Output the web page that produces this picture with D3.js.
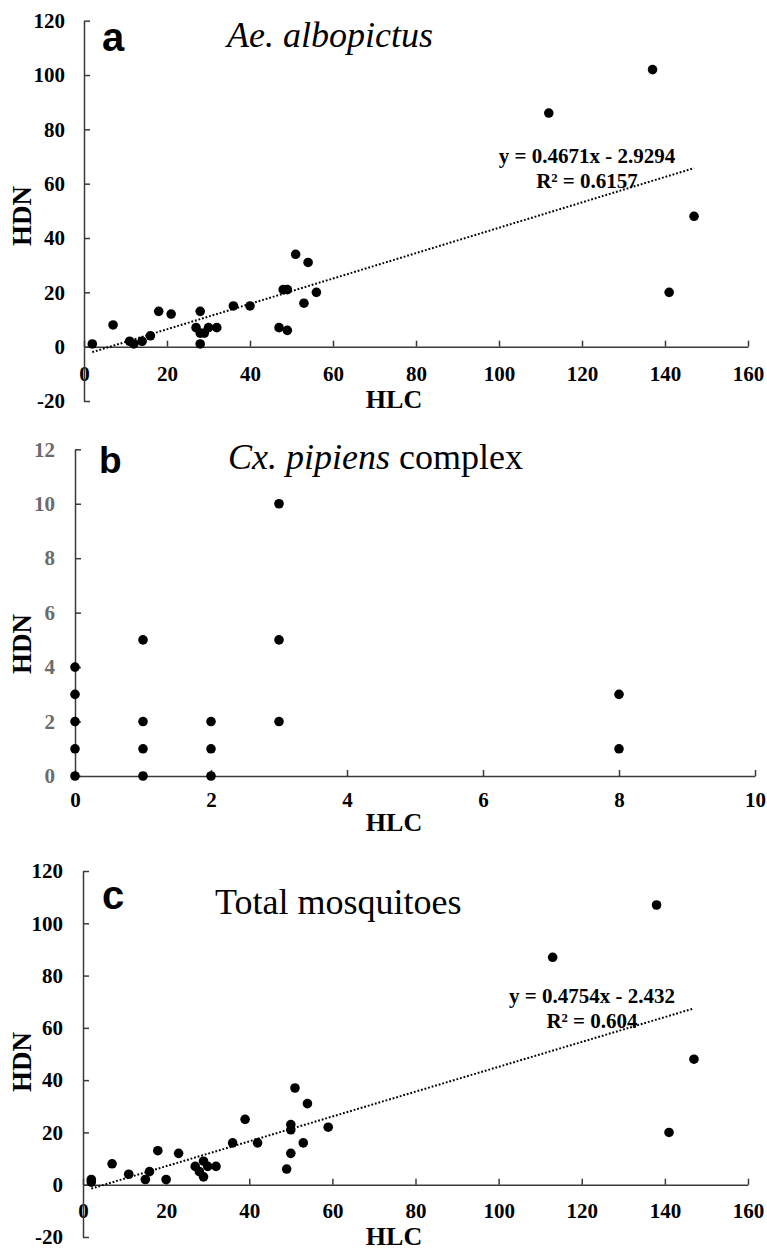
<!DOCTYPE html>
<html>
<head>
<meta charset="utf-8">
<script src="https://cdn.jsdelivr.net/npm/d3@7"></script>
<style>
  body { margin: 0; background: #fff; }
  .axis path, .axis line { stroke: #3a3a3a; stroke-width: 1.5; }
  .axis text { font-family: "Liberation Serif", "Times New Roman", serif; font-weight: bold; font-size: 21px; fill: #000; }
  .axis.grey text { fill: #6b6b6b; }
</style>
</head>
<body>
<script>
// panel a - Ae. albopictus
var hlcA = [2, 7, 11, 12, 14, 16, 18, 21, 27, 28, 28, 28, 29, 30, 32, 36, 40, 47, 48, 49, 49, 51, 54, 53, 56, 112, 137, 147, 141];
var hdnA = [1, 8, 2, 1, 2, 4, 13, 12, 7, 13, 1, 5, 5, 7, 7, 15, 15, 7, 21, 21, 6, 34, 31, 16, 20, 86, 102, 48, 20];
var fitA = [0.4671, -2.9294];
var eqA = ["y = 0.4671x - 2.9294", "R² = 0.6157"];

// panel b - Cx. pipiens complex
var hlcB = [0, 0, 0, 0, 0, 1, 1, 1, 1, 2, 2, 2, 3, 3, 3, 8, 8];
var hdnB = [4, 3, 2, 1, 0, 5, 2, 1, 0, 2, 1, 0, 10, 5, 2, 3, 1];

// panel c - Total mosquitoes
var hlcC = [2, 2, 7, 11, 15, 16, 18, 20, 23, 27, 28, 29, 29, 30, 32, 36, 39, 42, 49, 50, 50, 50, 51, 53, 54, 59, 113, 138, 147, 141];
var hdnC = [2, 1, 8, 4, 2, 5, 13, 2, 12, 7, 5, 3, 9, 7, 7, 16, 25, 16, 6, 23, 21, 12, 37, 16, 31, 22, 87, 107, 48, 20];
var fitC = [0.4754, -2.432];
var eqC = ["y = 0.4754x - 2.432", "R² = 0.604"];

// tick values
var ticksX160 = [0, 20, 40, 60, 80, 100, 120, 140, 160];
var ticksY120 = [-20, 0, 20, 40, 60, 80, 100, 120];
var ticksX10 = [0, 2, 4, 6, 8, 10];
var ticksY12 = [0, 2, 4, 6, 8, 10, 12];

var svg = d3.select("body").append("svg")
  .attr("width", 767)
  .attr("height", 1251);

// plain hyphen for negatives, like the original
var fmt = function(d) { return String(d); };

function panel(p) {
  var x = d3.scaleLinear().domain(p.xDom).range(p.xRange);
  var y = d3.scaleLinear().domain(p.yDom).range(p.yRange);
  var g = svg.append("g");

  g.append("g").attr("class", "axis")
    .attr("transform", "translate(0," + y(0) + ")")
    .call(d3.axisBottom(x).tickValues(p.xTicks).tickFormat(fmt).tickSize(-6).tickSizeOuter(0).tickPadding(p.xPad));

  g.append("g").attr("class", "axis" + (p.greyY ? " grey" : ""))
    .attr("transform", "translate(" + x(0) + ",0)")
    .call(d3.axisLeft(y).tickValues(p.yTicks).tickFormat(fmt).tickSize(-6).tickSizeOuter(0).tickPadding(p.yPad));

  // trend line over the data extent
  if (p.fit) {
    var ext = d3.extent(p.xs);
    g.append("line")
      .attr("x1", x(ext[0])).attr("y1", y(p.fit[0] * ext[0] + p.fit[1]))
      .attr("x2", x(ext[1])).attr("y2", y(p.fit[0] * ext[1] + p.fit[1]))
      .attr("stroke", "#000").attr("stroke-width", 2)
      .attr("stroke-dasharray", "1.8,1.9");
  }

  g.selectAll("circle").data(p.xs).enter().append("circle")
    .attr("cx", function(d) { return x(d); })
    .attr("cy", function(d, i) { return y(p.ys[i]); })
    .attr("r", 4.8)
    .attr("fill", "#000");

  if (p.eq) {
    g.selectAll("text.eq").data(p.eq).enter().append("text")
      .attr("class", "eq")
      .attr("x", p.eqX)
      .attr("y", function(d, i) { return p.eqY + i * 25; })
      .attr("text-anchor", "middle")
      .style("font-family", "Liberation Serif, serif")
      .style("font-weight", "bold")
      .style("font-size", "21px")
      .text(function(d) { return d; });
  }

  // panel letter
  g.append("text")
    .attr("x", p.letterX).attr("y", p.letterY)
    .style("font-family", "Liberation Sans, Arial, sans-serif")
    .style("font-weight", "bold")
    .style("font-size", p.letterSize + "px")
    .text(p.letter);

  // title
  var t = g.append("text")
    .attr("x", p.titleX).attr("y", p.titleY)
    .style("font-family", "Liberation Serif, serif")
    .style("font-size", "36px");
  p.title.forEach(function(part) {
    t.append("tspan").style("font-style", part[1] ? "italic" : "normal").text(part[0]);
  });

  // axis titles
  g.append("text")
    .attr("x", 394).attr("y", p.hlcY)
    .attr("text-anchor", "middle")
    .style("font-family", "Liberation Serif, serif")
    .style("font-weight", "bold")
    .style("font-size", "26px")
    .text("HLC");

  g.append("text")
    .attr("transform", "translate(31," + p.hdnY + ") rotate(-90)")
    .attr("text-anchor", "middle")
    .style("font-family", "Liberation Serif, serif")
    .style("font-weight", "bold")
    .style("font-size", "27px")
    .text("HDN");
}

panel({
  xs: hlcA, ys: hdnA, fit: fitA, eq: eqA, eqX: 587, eqY: 163,
  xDom: [0, 160], xRange: [84, 748], yDom: [-20, 120], yRange: [401, 20.7],
  xTicks: ticksX160, yTicks: ticksY120, xPad: 19, yPad: 19,
  letter: "a", letterX: 102, letterY: 51, letterSize: 40,
  title: [["Ae. albopictus", true]], titleX: 227, titleY: 47,
  hlcY: 408, hdnY: 216
});

panel({
  xs: hlcB, ys: hdnB, greyY: true,
  xDom: [0, 10], xRange: [75, 755], yDom: [0, 12], yRange: [776, 449.3],
  xTicks: ticksX10, yTicks: ticksY12, xPad: 16, yPad: 20,
  letter: "b", letterX: 99, letterY: 473, letterSize: 37,
  title: [["Cx. pipiens", true], [" complex", false]], titleX: 228, titleY: 469,
  hlcY: 831, hdnY: 644
});

panel({
  xs: hlcC, ys: hdnC, fit: fitC, eq: eqC, eqX: 592, eqY: 1003,
  xDom: [0, 160], xRange: [83, 748], yDom: [-20, 120], yRange: [1237, 871],
  xTicks: ticksX160, yTicks: ticksY120, xPad: 18, yPad: 20,
  letter: "c", letterX: 102, letterY: 909, letterSize: 40,
  title: [["Total mosquitoes", false]], titleX: 215, titleY: 914,
  hlcY: 1245, hdnY: 1062
});
</script>
</body>
</html>
